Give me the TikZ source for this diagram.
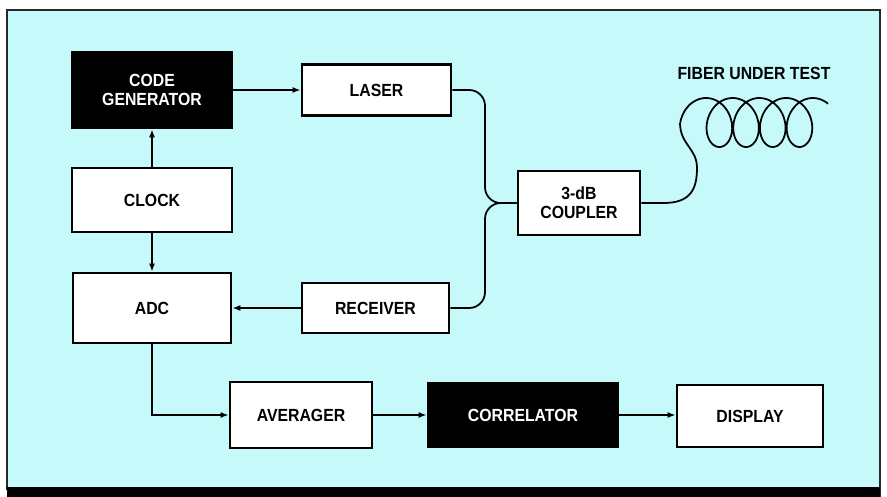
\documentclass[tikz,border=0pt]{standalone}
\usepackage{fontspec}
\newfontfamily\lblfont{Liberation Sans}[FakeStretch=0.9]
\usetikzlibrary{arrows.meta,positioning}
\definecolor{panel}{RGB}{198,249,249}
\definecolor{rim}{RGB}{40,40,40}
\tikzset{
  blk/.style={draw=black,line width=1.6pt,fill=white,inner sep=0pt,align=center,
    font=\lblfont\bfseries\fontsize{10}{11}\selectfont},
  dark/.style={blk,fill=black,text=white},
  link/.style={line width=1pt,-{Latex[length=4.5pt,width=3.4pt]}},
  fiber/.style={line width=1pt,rounded corners=9pt},
}
\begin{document}
\begin{tikzpicture}[x=0.02cm,y=-0.02cm]
\useasboundingbox (0,0) rectangle (887,497);
% panel
\fill[panel] (7,10) rectangle (880,490);
\draw[rim,line width=0.9pt] (7,490) -- (7,10) -- (880,10) -- (880,497);
\fill[black] (7,487) rectangle (880,497);
% blocks
\node[dark,minimum width=3.2cm,minimum height=1.52cm] (codegen) at (152,90) {CODE\\GENERATOR};
\node[blk,minimum width=3.2cm,minimum height=1.28cm] (clock) at (152,200) {CLOCK};
\node[blk,minimum width=3.16cm,minimum height=1.4cm] (adc) at (152,308) {ADC};
\node[blk,minimum width=2.98cm,minimum height=1.02cm] (laser) at (376.5,90) {LASER};
\node[blk,minimum width=2.94cm,minimum height=1cm] (receiver) at (375.5,308) {RECEIVER};
\node[blk,minimum width=2.44cm,minimum height=1.28cm] (coupler) at (579,203) {3-dB\\COUPLER};
\node[blk,minimum width=2.84cm,minimum height=1.32cm] (averager) at (301,415) {AVERAGER};
\node[dark,minimum width=3.8cm,minimum height=1.28cm] (correlator) at (523,415) {CORRELATOR};
\node[blk,minimum width=2.92cm,minimum height=1.24cm] (display) at (750,416) {DISPLAY};
\node[font=\lblfont\bfseries\fontsize{10}{11}\selectfont] (fut) at (754,73) {FIBER UNDER TEST};
% signal paths
\draw[link] (codegen.east) -- (laser.west);
\draw[link] (clock.north) -- (codegen.south);
\draw[link] (clock.south) -- (adc.north);
\draw[link] (receiver.west) -- (adc.east);
\draw[link] (adc.south) |- (averager.west);
\draw[link] (averager.east) -- (correlator.west);
\draw[link] (correlator.east) -- (correlator.east -| display.west);
% fibers
\coordinate (tap) at (485,203);
\coordinate (coilstart) at (680,122.5);
\draw[fiber] (laser.east) -| (tap) -- (coupler.west);
\draw[fiber] (receiver.east) -| (tap) -- (coupler.west);
\draw[line width=1pt] (coupler.east) -- ++(22,0)
  .. controls (690,203) and (697,190) .. (697,168)
  .. controls (697,148) and (680,145) .. (coilstart);
\draw[line width=1pt] plot[domain=-pi/2:8*pi+0.7,samples=260,smooth]
  ({706+4.25*\x+19*sin(\x r)},{122.5-24.5*cos(\x r)});
\end{tikzpicture}
\end{document}
